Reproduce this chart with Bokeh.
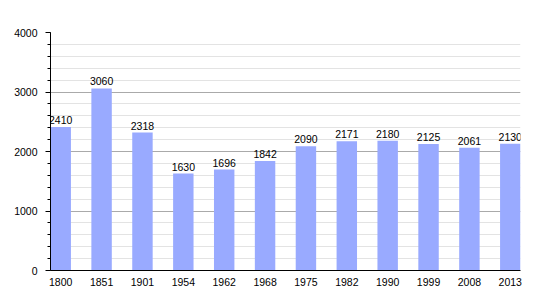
from bokeh.plotting import figure
from bokeh.models import Range1d, FixedTicker, ColumnDataSource, LabelSet
from bokeh.core.properties import value
from bokeh.embed import file_html
from bokeh.resources import INLINE

years = ["1800", "1851", "1901", "1954", "1962", "1968", "1975", "1982", "1990", "1999", "2008", "2013"]
population = [2410, 3060, 2318, 1630, 1696, 1842, 2090, 2171, 2180, 2125, 2061, 2130]
y_ticks = [0, 1000, 2000, 3000, 4000]

xs = list(range(len(years)))
src = ColumnDataSource(dict(x=xs, top=population, label=[str(v) for v in population]))

p = figure(width=550, height=300, output_backend="svg", toolbar_location=None,
           x_range=Range1d(-0.25, len(years) - 0.75), y_range=Range1d(0, 4000),
           min_border_left=50, min_border_right=30, min_border_top=32, min_border_bottom=30)
p.outline_line_color = None
p.background_fill_color = "white"
p.border_fill_color = "white"

p.vbar(x="x", top="top", width=0.5, source=src, fill_color="#99aaff", line_color=None)
labels = LabelSet(x="x", y="top", text="label", source=src, text_align="center", text_baseline="bottom",
                  y_offset=3, text_font=value("Liberation Sans"), text_font_size=value("10.5px"),
                  text_color=value("black"))
p.add_layout(labels)

p.xaxis.ticker = FixedTicker(ticks=xs)
p.xaxis.major_label_overrides = {i: y for i, y in enumerate(years)}
p.xaxis.major_tick_line_color = None
p.xaxis.minor_tick_line_color = None
p.xaxis.axis_line_color = "black"
p.xaxis.major_label_standoff = 1
p.xaxis.major_label_text_font = "Liberation Sans"
p.xaxis.major_label_text_font_size = "10.5px"
p.xaxis.major_label_text_color = "black"

p.yaxis.ticker = FixedTicker(ticks=y_ticks, minor_ticks=list(range(0, 4001, 200)))
p.yaxis.axis_line_color = "black"
p.yaxis.major_tick_in = 0
p.yaxis.major_tick_out = 5
p.yaxis.minor_tick_in = 0
p.yaxis.minor_tick_out = 3
p.yaxis.major_tick_line_color = "black"
p.yaxis.minor_tick_line_color = "black"
p.yaxis.major_label_standoff = 8
p.yaxis.major_label_text_font = "Liberation Sans"
p.yaxis.major_label_text_font_size = "10.5px"
p.yaxis.major_label_text_color = "black"

p.xgrid.grid_line_color = None
p.ygrid.grid_line_color = "#aaaaaa"
p.ygrid.minor_grid_line_color = "#e3e3e3"

open("out.html", "w").write(file_html(p, INLINE))
